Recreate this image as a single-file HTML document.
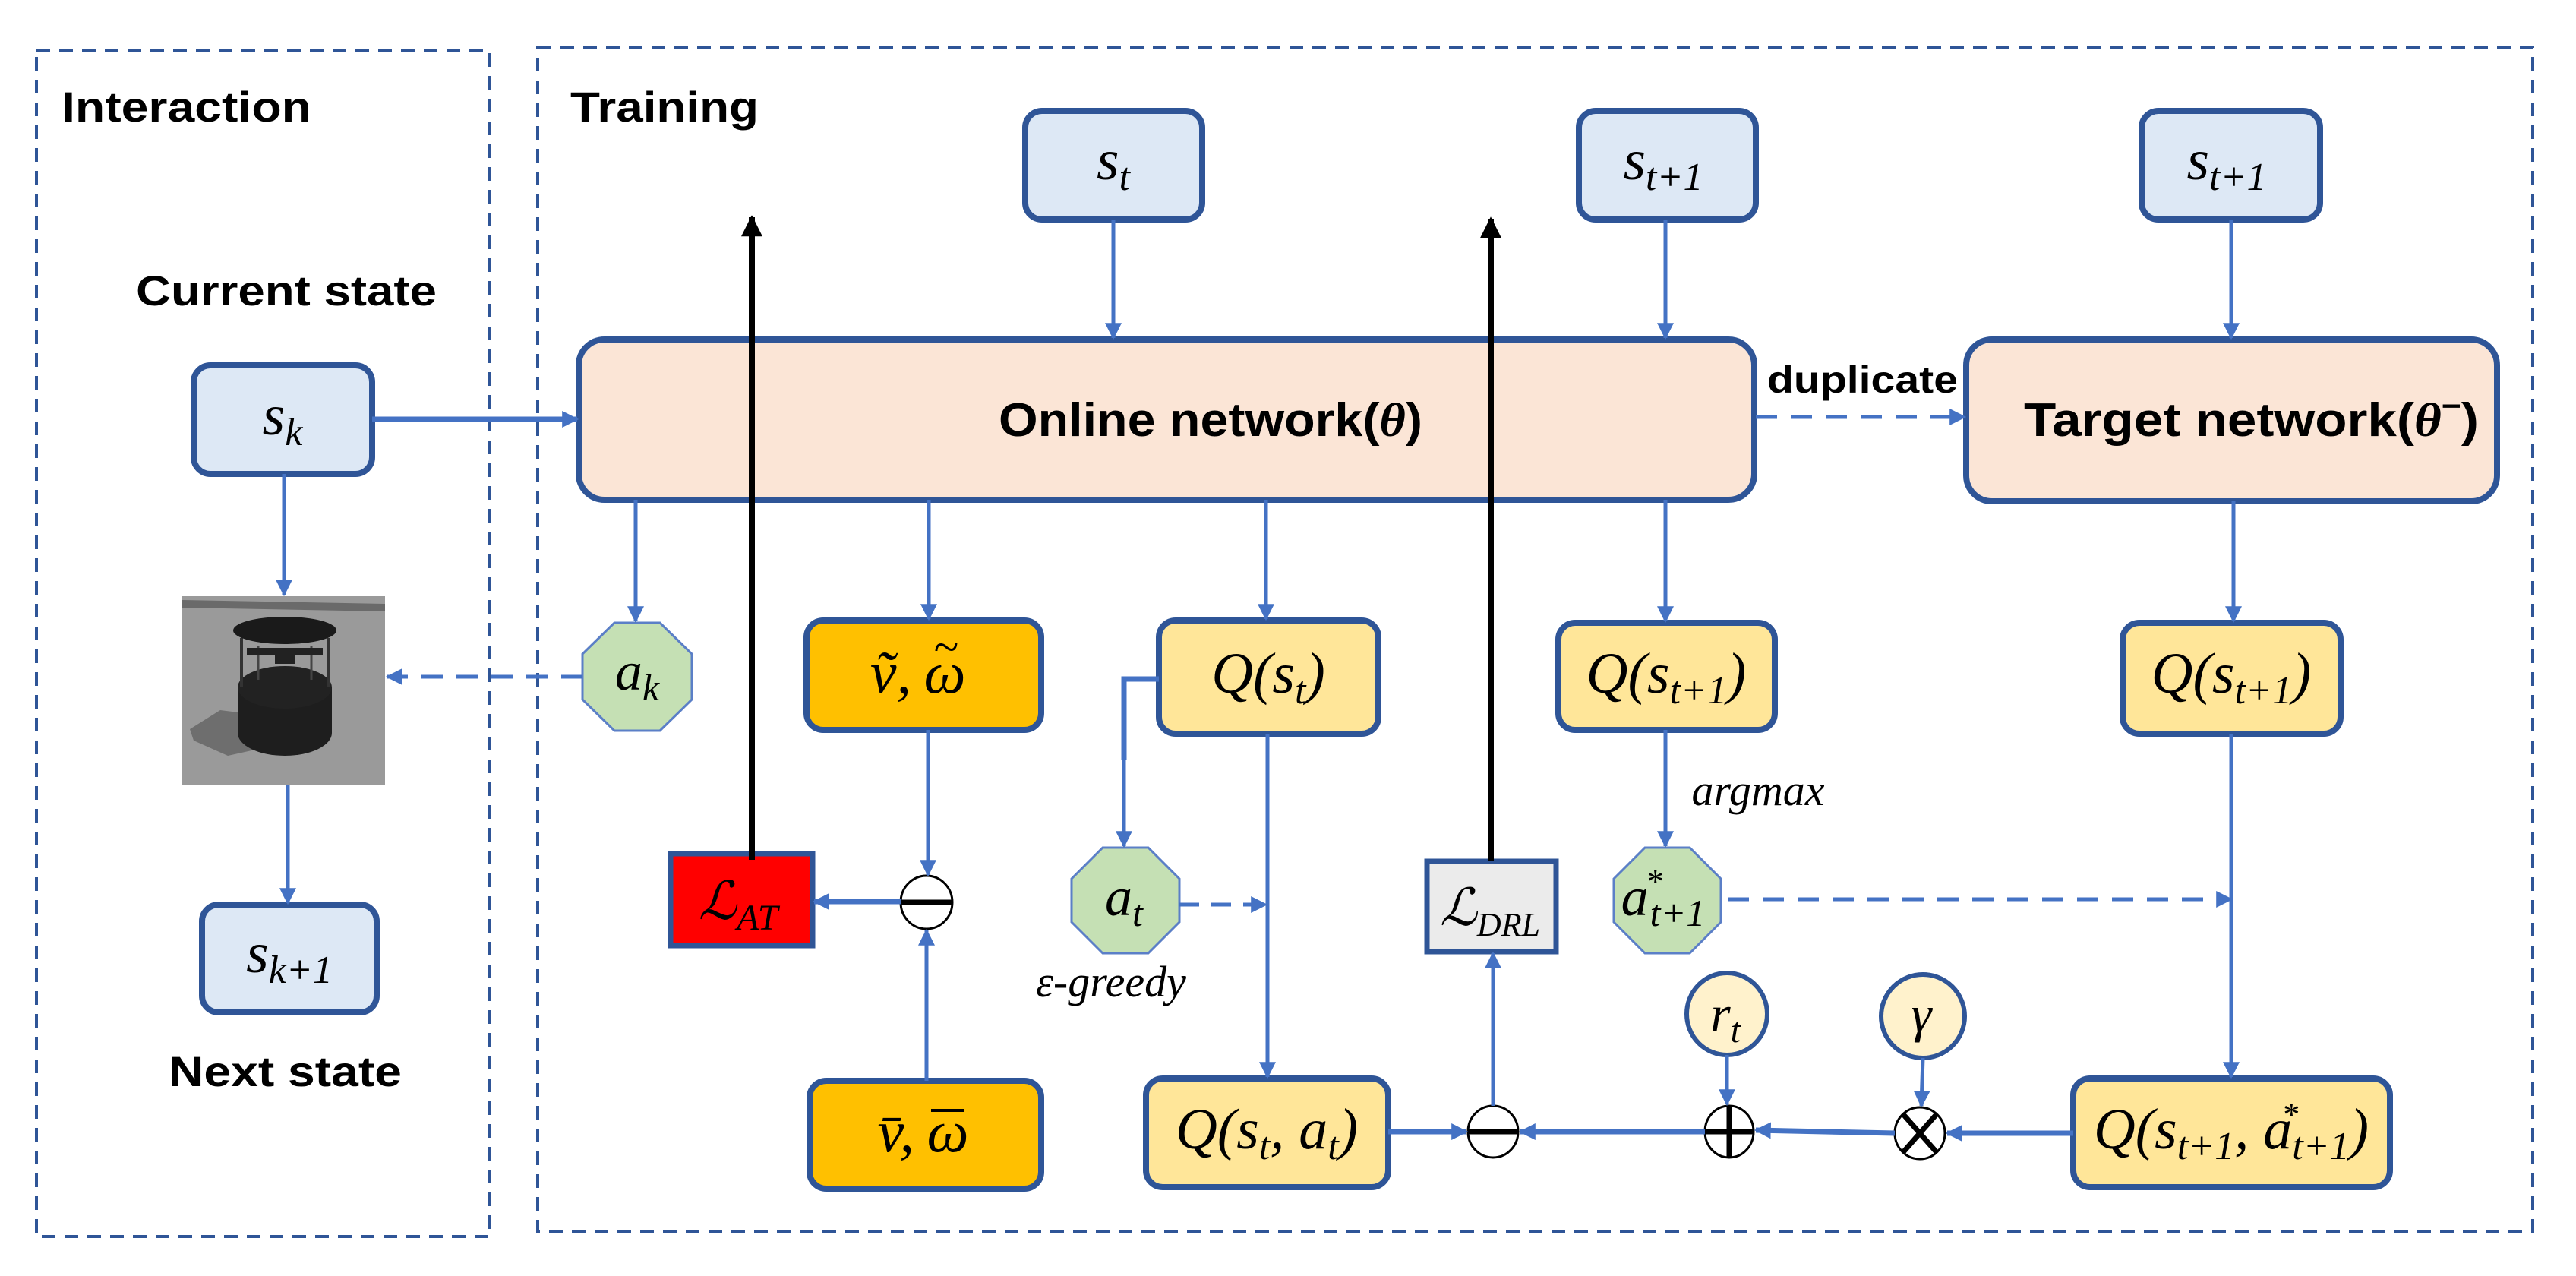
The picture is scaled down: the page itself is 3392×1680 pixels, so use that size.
<!DOCTYPE html>
<html><head><meta charset="utf-8"><style>html,body{margin:0;padding:0;background:#fff}svg{display:block}</style></head><body>
<svg xmlns="http://www.w3.org/2000/svg" width="3392" height="1680" viewBox="0 0 3392 1680">
<defs>
<marker id="ab2" viewBox="0 0 10 10" refX="9" refY="5" markerWidth="22" markerHeight="24" markerUnits="userSpaceOnUse" orient="auto"><path d="M0,0 L10,5 L0,10 z" fill="#4472c4"/></marker>
<marker id="ak" viewBox="0 0 10 10" refX="9" refY="5" markerWidth="32" markerHeight="28" markerUnits="userSpaceOnUse" orient="auto"><path d="M0,0 L10,5 L0,10 z" fill="#000"/></marker>
</defs>
<style>
.lbl{font-family:"Liberation Sans",sans-serif;font-weight:bold;fill:#000}
.m{font-family:"Liberation Serif",serif;font-style:italic;fill:#000;text-anchor:middle}
.c{stroke:#4472c4;stroke-width:5;fill:none}
.t{stroke:#4472c4;stroke-width:7;fill:none}
.bb{fill:#dde8f5;stroke:#2f5597;stroke-width:8}
.pe{fill:#fbe5d6;stroke:#2f5597;stroke-width:8}
.or{fill:#ffc000;stroke:#2f5597;stroke-width:8}
.ye{fill:#ffe699;stroke:#2f5597;stroke-width:8}
.gr{fill:#c5e0b4;stroke:#5b7fc7;stroke-width:3}
</style>
<rect x="48" y="67" width="597" height="1561" fill="none" stroke="#2f5597" stroke-width="4" stroke-dasharray="18,12"/>
<rect x="708" y="62" width="2627" height="1559" fill="none" stroke="#2f5597" stroke-width="4" stroke-dasharray="18,12"/>
<text class="lbl" x="81" y="160" font-size="56" textLength="329" lengthAdjust="spacingAndGlyphs">Interaction</text>
<text class="lbl" x="751" y="160" font-size="56" textLength="248" lengthAdjust="spacingAndGlyphs">Training</text>
<text class="lbl" x="179" y="402" font-size="56" textLength="396" lengthAdjust="spacingAndGlyphs">Current state</text>
<text class="lbl" x="222" y="1430" font-size="56" textLength="307" lengthAdjust="spacingAndGlyphs">Next state</text>

<rect class="bb" x="255" y="481" width="235" height="143" rx="22"/>
<text class="m" x="372" y="572" font-size="76">s<tspan font-size="52" dy="14">k</tspan></text>
<rect class="bb" x="266" y="1191" width="230" height="142" rx="22"/>
<text class="m" x="381" y="1280" font-size="76">s<tspan font-size="52" dy="14">k+1</tspan></text>
<rect class="bb" x="1350" y="146" width="233" height="143" rx="22"/>
<text class="m" x="1466" y="236" font-size="76">s<tspan font-size="52" dy="14">t</tspan></text>
<rect class="bb" x="2079" y="146" width="233" height="143" rx="22"/>
<text class="m" x="2190" y="236" font-size="76">s<tspan font-size="52" dy="14">t+1</tspan></text>
<rect class="bb" x="2820" y="146" width="235" height="143" rx="22"/>
<text class="m" x="2932" y="236" font-size="76">s<tspan font-size="52" dy="14">t+1</tspan></text>

<rect class="pe" x="762" y="447" width="1548" height="211" rx="34"/>
<text class="lbl" x="1315" y="574" font-size="62" textLength="558" lengthAdjust="spacingAndGlyphs">Online network(<tspan font-family="Liberation Serif" font-style="italic">θ</tspan>)</text>
<rect class="pe" x="2589" y="447" width="699" height="213" rx="34"/>
<text class="lbl" x="2665" y="574" font-size="62" textLength="599" lengthAdjust="spacingAndGlyphs">Target network(<tspan font-family="Liberation Serif" font-style="italic">θ</tspan><tspan dy="-26" font-size="40">−</tspan><tspan dy="26">)</tspan></text>
<text class="lbl" x="2327" y="517" font-size="50" textLength="251" lengthAdjust="spacingAndGlyphs">duplicate</text>

<rect x="240" y="785" width="267" height="248" fill="#9a9a9a"/>
<path d="M240,790 L507,795 L507,805 L240,800z" fill="#6a6a6a"/>
<path d="M250,960 L290,935 L330,940 L345,985 L300,995 L255,975z" fill="#6e6e6e"/>
<ellipse cx="375" cy="965" rx="62" ry="30" fill="#1e1e1e"/>
<rect x="313" y="905" width="124" height="60" fill="#1e1e1e"/>
<ellipse cx="375" cy="905" rx="62" ry="28" fill="#222"/>
<line x1="318" y1="840" x2="318" y2="905" stroke="#333" stroke-width="4"/>
<line x1="432" y1="840" x2="432" y2="905" stroke="#333" stroke-width="4"/>
<line x1="340" y1="850" x2="340" y2="895" stroke="#444" stroke-width="3"/>
<line x1="410" y1="850" x2="410" y2="895" stroke="#444" stroke-width="3"/>
<rect x="325" y="853" width="100" height="10" fill="#222"/>
<rect x="362" y="860" width="26" height="14" fill="#222"/>
<ellipse cx="375" cy="830" rx="68" ry="18" fill="#1a1a1a"/>

<rect class="or" x="1062" y="817" width="309" height="144" rx="22"/>
<text class="m" x="1200" y="912" font-size="78" style="text-anchor:end">ṽ,</text>
<text class="m" x="1244" y="912" font-size="78">ω</text>
<text class="m" x="1246" y="872" font-size="60" style="font-style:normal">~</text>
<rect class="or" x="1066" y="1423" width="305" height="142" rx="22"/>
<text class="m" x="1204" y="1516" font-size="78" style="text-anchor:end">v̄,</text>
<text class="m" x="1248" y="1516" font-size="78">ω</text>
<line x1="1226" y1="1462" x2="1270" y2="1462" stroke="#000" stroke-width="4"/>
<rect class="ye" x="1526" y="817" width="289" height="149" rx="22"/>
<text class="m" x="1670" y="912" font-size="76">Q(s<tspan font-size="52" dy="14">t</tspan><tspan dy="-14">)</tspan></text>
<rect class="ye" x="2052" y="820" width="285" height="141" rx="22"/>
<text class="m" x="2194" y="912" font-size="76">Q(s<tspan font-size="52" dy="14">t+1</tspan><tspan dy="-14">)</tspan></text>
<rect class="ye" x="2795" y="820" width="287" height="146" rx="22"/>
<text class="m" x="2938" y="912" font-size="76">Q(s<tspan font-size="52" dy="14">t+1</tspan><tspan dy="-14">)</tspan></text>
<rect class="ye" x="1509" y="1420" width="319" height="143" rx="22"/>
<text class="m" x="1668" y="1512" font-size="76">Q(s<tspan font-size="52" dy="14">t</tspan><tspan dy="-14">, a</tspan><tspan font-size="52" dy="14">t</tspan><tspan dy="-14">)</tspan></text>
<rect class="ye" x="2730" y="1420" width="417" height="143" rx="22"/>
<text class="m" x="2938" y="1512" font-size="76">Q(s<tspan font-size="52" dy="14">t+1</tspan><tspan dy="-14">, a</tspan><tspan font-size="44" dx="-14" dy="-30">*</tspan><tspan font-size="52" dx="-8" dy="44">t+1</tspan><tspan dy="-14">)</tspan></text>

<polygon class="gr" points="809,820 869,820 911,861 911,921 869,962 809,962 767,921 767,861"/>
<text class="m" x="839" y="908" font-size="72">a<tspan font-size="50" dy="14">k</tspan></text>
<polygon class="gr" points="1452,1116 1512,1116 1553,1157 1553,1214 1512,1255 1452,1255 1411,1214 1411,1157"/>
<text class="m" x="1480" y="1205" font-size="72">a<tspan font-size="50" dy="14">t</tspan></text>
<polygon class="gr" points="2166,1116 2225,1116 2266,1157 2266,1214 2225,1255 2166,1255 2125,1214 2125,1157"/>
<text class="m" x="2190" y="1205" font-size="72">a<tspan font-size="44" dx="-4" dy="-30">*</tspan><tspan font-size="50" dx="-16" dy="44">t+1</tspan></text>

<rect x="883" y="1124" width="187" height="121" fill="#ff0000" stroke="#2f5597" stroke-width="7"/>
<text class="m" x="972" y="1210" font-size="70">ℒ<tspan font-size="48" dy="14">AT</tspan></text>
<rect x="1879" y="1134" width="170" height="119" fill="#ebebeb" stroke="#2f5597" stroke-width="7"/>
<text class="m" x="1962" y="1218" font-size="68">ℒ<tspan font-size="44" dy="14">DRL</tspan></text>

<ellipse cx="1220" cy="1188" rx="34" ry="35" fill="#fff" stroke="#000" stroke-width="3"/>
<line x1="1186" y1="1188" x2="1254" y2="1188" stroke="#000" stroke-width="7"/>
<ellipse cx="1966" cy="1490" rx="33" ry="34" fill="#fff" stroke="#000" stroke-width="3"/>
<line x1="1933" y1="1490" x2="1999" y2="1490" stroke="#000" stroke-width="7"/>
<ellipse cx="2277" cy="1490" rx="32" ry="34" fill="#fff" stroke="#000" stroke-width="3"/>
<line x1="2245" y1="1490" x2="2309" y2="1490" stroke="#000" stroke-width="7"/>
<line x1="2277" y1="1456" x2="2277" y2="1524" stroke="#000" stroke-width="7"/>
<ellipse cx="2528" cy="1492" rx="33" ry="34" fill="#fff" stroke="#000" stroke-width="3"/>
<line x1="2506" y1="1467" x2="2550" y2="1517" stroke="#000" stroke-width="7"/>
<line x1="2550" y1="1467" x2="2506" y2="1517" stroke="#000" stroke-width="7"/>
<ellipse cx="2274" cy="1335" rx="53" ry="54" fill="#fff2cc" stroke="#2f5597" stroke-width="6"/>
<text class="m" x="2272" y="1358" font-size="68">r<tspan font-size="48" dy="14">t</tspan></text>
<ellipse cx="2532" cy="1338" rx="55" ry="55" fill="#fff2cc" stroke="#2f5597" stroke-width="6"/>
<text class="m" x="2530" y="1358" font-size="68">γ</text>

<text class="m" x="1463" y="1312" font-size="58">ε-greedy</text>
<text class="m" x="2315" y="1060" font-size="58">argmax</text>

<line class="t" x1="490" y1="552" x2="760" y2="552" marker-end="url(#ab2)"/>
<line class="c" x1="374" y1="624" x2="374" y2="783" marker-end="url(#ab2)"/>
<line class="c" x1="379" y1="1033" x2="379" y2="1189" marker-end="url(#ab2)"/>
<line class="c" x1="1466" y1="289" x2="1466" y2="445" marker-end="url(#ab2)"/>
<line class="c" x1="2193" y1="289" x2="2193" y2="445" marker-end="url(#ab2)"/>
<line class="c" x1="2938" y1="289" x2="2938" y2="445" marker-end="url(#ab2)"/>
<line class="c" x1="2312" y1="549" x2="2587" y2="549" stroke-dasharray="28,18" stroke-width="6" marker-end="url(#ab2)"/>
<line class="c" x1="837" y1="658" x2="837" y2="818" marker-end="url(#ab2)"/>
<line class="c" x1="1223" y1="658" x2="1223" y2="815" marker-end="url(#ab2)"/>
<line class="c" x1="1667" y1="658" x2="1667" y2="815" marker-end="url(#ab2)"/>
<line class="c" x1="2193" y1="658" x2="2193" y2="818" marker-end="url(#ab2)"/>
<line class="c" x1="2941" y1="660" x2="2941" y2="818" marker-end="url(#ab2)"/>
<line class="c" x1="767" y1="891" x2="510" y2="891" stroke-dasharray="28,18" stroke-width="6" marker-end="url(#ab2)"/>
<line class="c" x1="1222" y1="961" x2="1222" y2="1152" marker-end="url(#ab2)"/>
<line class="c" x1="1220" y1="1423" x2="1220" y2="1225" marker-end="url(#ab2)"/>
<line class="t" x1="1186" y1="1187" x2="1072" y2="1187" marker-end="url(#ab2)"/>
<polyline class="t" points="1526,894 1480,894 1480,1000" stroke-width="6"/>
<line class="c" x1="1480" y1="1000" x2="1480" y2="1114" marker-end="url(#ab2)"/>
<line class="c" x1="1553" y1="1191" x2="1667" y2="1191" stroke-dasharray="26,16" stroke-width="6" marker-end="url(#ab2)"/>
<line class="c" x1="1669" y1="966" x2="1669" y2="1418" marker-end="url(#ab2)"/>
<line class="c" x1="2193" y1="961" x2="2193" y2="1114" marker-end="url(#ab2)"/>
<line class="c" x1="2275" y1="1184" x2="2938" y2="1184" stroke-dasharray="28,18" stroke-width="6" marker-end="url(#ab2)"/>
<line class="c" x1="2938" y1="966" x2="2938" y2="1418" marker-end="url(#ab2)"/>
<line class="t" x1="1828" y1="1490" x2="1931" y2="1490" marker-end="url(#ab2)"/>
<line class="t" x1="2245" y1="1490" x2="2002" y2="1490" marker-end="url(#ab2)"/>
<line class="t" x1="2495" y1="1492" x2="2312" y2="1488" marker-end="url(#ab2)"/>
<line class="t" x1="2730" y1="1492" x2="2564" y2="1492" marker-end="url(#ab2)"/>
<line class="c" x1="1966" y1="1456" x2="1966" y2="1255" marker-end="url(#ab2)"/>
<line class="c" x1="2274" y1="1389" x2="2274" y2="1454" marker-end="url(#ab2)"/>
<line class="c" x1="2532" y1="1393" x2="2530" y2="1456" marker-end="url(#ab2)"/>
<line x1="990" y1="1132" x2="990" y2="286" stroke="#000" stroke-width="8" marker-end="url(#ak)"/>
<line x1="1963" y1="1134" x2="1963" y2="288" stroke="#000" stroke-width="8" marker-end="url(#ak)"/>
</svg>
</body></html>
